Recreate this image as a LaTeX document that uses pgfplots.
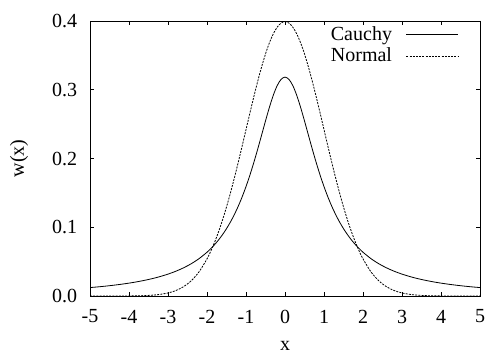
\documentclass[border=0pt]{standalone}
\usepackage{fontspec}
\setmainfont{Liberation Serif}
\usepackage{pgfplots}
\pgfplotsset{compat=1.18}
\begin{document}
\fontsize{20}{23}\selectfont
\begin{tikzpicture}[font=\fontsize{20}{23}\selectfont]
\begin{axis}[
  at={(0pt,0pt)}, anchor=south west,
  scale only axis, width=390pt, height=275pt,
  xmin=-5, xmax=5, ymin=0, ymax=0.4,
  xtick={-5,-4,...,5}, ytick={0,0.1,0.2,0.3,0.4},
  /pgf/number format/assume math mode=true,
  yticklabel style={/pgf/number format/fixed,/pgf/number format/fixed zerofill,/pgf/number format/precision=1},
  tick label style={font=\fontsize{20}{23}\selectfont},
  label style={font=\fontsize{20}{23}\selectfont},
  tick align=inside, major tick length=4pt,
  axis line style={line width=0.9pt},
  every tick/.style={line width=0.8pt, black},
  xlabel={x}, ylabel={w(x)},
  xlabel style={at={(axis description cs:0.5,0)}, anchor=north, yshift=-38pt},
  ylabel style={at={(axis description cs:0,0.5)}, anchor=south, xshift=0pt, yshift=55pt},
  xticklabel style={yshift=-7pt},
  yticklabel style={xshift=-6pt},
  legend style={draw=none, fill=none, at={(1,1)}, anchor=north east, xshift=-18pt, yshift=-1pt,
    row sep=0.5pt, column sep=12pt, font=\fontsize{20}{23}\selectfont},
  legend cell align=right, legend plot pos=right,
  legend image code/.code={\draw[#1] (0pt,0pt) -- (52pt,0pt);},
]
\addplot[black, line width=0.8pt, smooth] coordinates {
(-5,0.01224)(-4.75,0.01351)(-4.5,0.01498)(-4.25,0.01670)(-4,0.01872)(-3.75,0.02113)(-3.5,0.02402)(-3.25,0.02753)
(-3,0.03183)(-2.8,0.03601)(-2.6,0.04102)(-2.4,0.04709)(-2.2,0.05451)(-2,0.06366)
(-1.9,0.06905)(-1.8,0.07507)(-1.7,0.08183)(-1.6,0.08941)(-1.5,0.09794)(-1.4,0.10754)(-1.3,0.11833)(-1.2,0.13045)(-1.1,0.14403)
(-1,0.15915)(-0.9,0.17586)(-0.8,0.19409)(-0.7,0.21363)(-0.6,0.23405)(-0.5,0.25465)(-0.4,0.27441)(-0.3,0.29203)(-0.2,0.30607)(-0.1,0.31516)
(0,0.31831)
(0.1,0.31516)(0.2,0.30607)(0.3,0.29203)(0.4,0.27441)(0.5,0.25465)(0.6,0.23405)(0.7,0.21363)(0.8,0.19409)(0.9,0.17586)(1,0.15915)
(1.1,0.14403)(1.2,0.13045)(1.3,0.11833)(1.4,0.10754)(1.5,0.09794)(1.6,0.08941)(1.7,0.08183)(1.8,0.07507)(1.9,0.06905)(2,0.06366)
(2.2,0.05451)(2.4,0.04709)(2.6,0.04102)(2.8,0.03601)(3,0.03183)
(3.25,0.02753)(3.5,0.02402)(3.75,0.02113)(4,0.01872)(4.25,0.01670)(4.5,0.01498)(4.75,0.01351)(5,0.01224)
};
\addlegendentry{Cauchy}
\addplot[black, line width=0.8pt, smooth, dash pattern=on 2pt off 1.2pt] coordinates {
(-5,0.0000015)(-4.5,0.00002)(-4,0.00013)(-3.75,0.00035)(-3.5,0.00087)(-3.25,0.00203)
(-3,0.00443)(-2.8,0.00792)(-2.6,0.01358)(-2.4,0.02239)(-2.2,0.03547)(-2,0.05399)
(-1.9,0.06562)(-1.8,0.07895)(-1.7,0.09405)(-1.6,0.11092)(-1.5,0.12952)(-1.4,0.14973)(-1.3,0.17137)(-1.2,0.19419)(-1.1,0.21785)
(-1,0.24197)(-0.9,0.26609)(-0.8,0.28969)(-0.7,0.31225)(-0.6,0.33322)(-0.5,0.35207)(-0.4,0.36827)(-0.3,0.38139)(-0.2,0.39104)(-0.1,0.39695)
(0,0.39894)
(0.1,0.39695)(0.2,0.39104)(0.3,0.38139)(0.4,0.36827)(0.5,0.35207)(0.6,0.33322)(0.7,0.31225)(0.8,0.28969)(0.9,0.26609)(1,0.24197)
(1.1,0.21785)(1.2,0.19419)(1.3,0.17137)(1.4,0.14973)(1.5,0.12952)(1.6,0.11092)(1.7,0.09405)(1.8,0.07895)(1.9,0.06562)(2,0.05399)
(2.2,0.03547)(2.4,0.02239)(2.6,0.01358)(2.8,0.00792)(3,0.00443)
(3.25,0.00203)(3.5,0.00087)(3.75,0.00035)(4,0.00013)(4.5,0.00002)(5,0.0000015)
};
\addlegendentry{Normal}
\end{axis}
\pgfresetboundingbox
\path[use as bounding box] (-90pt,-57pt) rectangle (396pt,296pt);
\end{tikzpicture}
\end{document}
